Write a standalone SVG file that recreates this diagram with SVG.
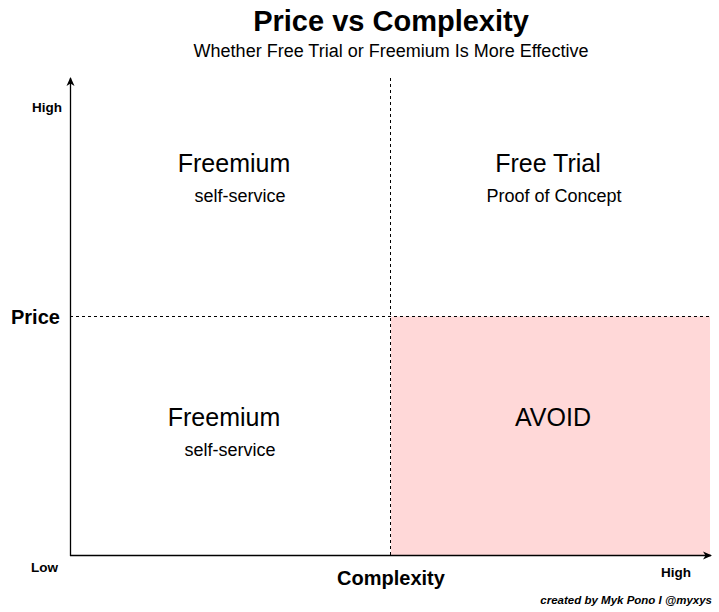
<svg xmlns="http://www.w3.org/2000/svg" width="719" height="612" viewBox="0 0 719 612">
<style>
text{font-family:"Liberation Sans",Arial,sans-serif;fill:#000}
.b{font-weight:bold}
.q{font-size:25px;text-anchor:middle}
.s{font-size:18px;text-anchor:middle}
.dash{stroke:#000;stroke-width:1;stroke-dasharray:3,3;fill:none}
.axis{stroke:#000;stroke-width:1.3;fill:none}
</style>
<defs>
<marker id="arr" markerWidth="10" markerHeight="10" refX="8" refY="5" orient="auto" markerUnits="userSpaceOnUse">
<path d="M0,1 L9,5 L0,9 L2.5,5 Z" fill="#000"/>
</marker>
</defs>
<rect width="719" height="612" fill="#fff"/>
<g id="avoid-zone">
<rect x="391" y="316.5" width="319" height="239" fill="#ffd8d8"/>
</g>
<g id="connectors">
<line class="dash" x1="390.5" y1="78" x2="390.5" y2="556"/>
<line class="dash" x1="70" y1="316.5" x2="710" y2="316.5"/>
<line class="axis" x1="70.5" y1="556" x2="70.5" y2="78" marker-end="url(#arr)"/>
<line class="axis" x1="70" y1="555.5" x2="711" y2="555.5" marker-end="url(#arr)"/>
</g>
<g id="title">
<text x="391" y="31" class="b" font-size="29" text-anchor="middle">Price vs Complexity</text>
<text x="391" y="57" font-size="18" text-anchor="middle">Whether Free Trial or Freemium Is More Effective</text>
</g>
<g id="axis-labels">
<text x="32" y="112" class="b" font-size="13.5">High</text>
<text x="31" y="572" class="b" font-size="13.5">Low</text>
<text x="11" y="324" class="b" font-size="20">Price</text>
<text x="391" y="585" class="b" font-size="20" text-anchor="middle">Complexity</text>
<text x="676" y="577" class="b" font-size="13.5" text-anchor="middle">High</text>
</g>
<g id="q-top-left">
<text x="234" y="172" class="q">Freemium</text>
<text x="240" y="202" class="s">self-service</text>
</g>
<g id="q-top-right">
<text x="548" y="172" class="q">Free Trial</text>
<text x="554" y="202" class="s">Proof of Concept</text>
</g>
<g id="q-bottom-left">
<text x="224" y="426" class="q">Freemium</text>
<text x="230" y="456" class="s">self-service</text>
</g>
<g id="q-bottom-right">
<text x="553" y="426" class="q">AVOID</text>
</g>
<g id="credit">
<text x="712" y="604" class="b" font-size="11.5" font-style="italic" text-anchor="end">created by Myk Pono I @myxys</text>
</g>
</svg>
